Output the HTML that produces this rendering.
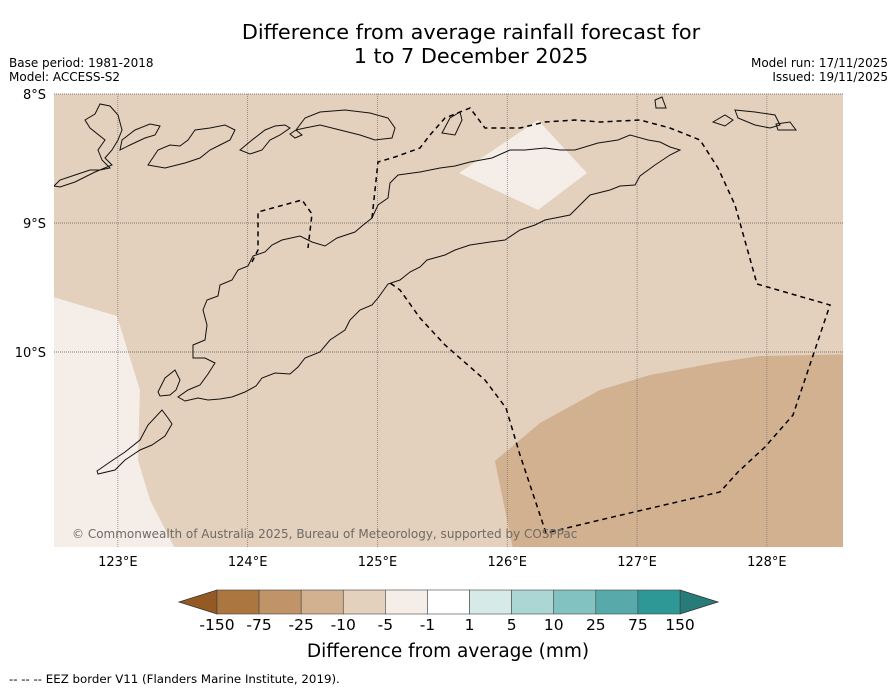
<!DOCTYPE html>
<html><head><meta charset="utf-8"><style>
body{margin:0;background:#fff;font-family:"DejaVu Sans","Liberation Sans",sans-serif;}
svg text{font-family:"DejaVu Sans","Liberation Sans",sans-serif;}
</style></head><body>
<svg id="chart" width="896" height="690" viewBox="0 0 896 690" xmlns="http://www.w3.org/2000/svg">
<text x="471" y="39" font-size="20.8" text-anchor="middle">Difference from average rainfall forecast for</text>
<text x="471" y="63" font-size="20.8" text-anchor="middle">1 to 7 December 2025</text>
<text x="9" y="67" font-size="12">Base period: 1981-2018</text>
<text x="9" y="81" font-size="12">Model: ACCESS-S2</text>
<text x="888" y="67" font-size="12" text-anchor="end">Model run: 17/11/2025</text>
<text x="888" y="81" font-size="12" text-anchor="end">Issued: 19/11/2025</text>
<defs><clipPath id="mapclip"><rect x="54" y="94" width="789" height="453"/></clipPath></defs>
<rect x="54" y="94" width="789" height="453" fill="#e3d0bd"/>
<g id="regions" clip-path="url(#mapclip)"></g>
<g id="grid"></g>
<g id="coast" clip-path="url(#mapclip)" fill="none" stroke="#111" stroke-width="1"></g>
<g id="eez" clip-path="url(#mapclip)" fill="none" stroke="#000" stroke-width="1.5" stroke-dasharray="5,4"></g>
<text x="72" y="538" font-size="12" fill="#6f6a66">© Commonwealth of Australia 2025, Bureau of Meteorology, supported by COSPPac</text>
<g id="axes"></g>
<g id="colorbar"></g>
<text x="448" y="657" font-size="18.5" text-anchor="middle">Difference from average (mm)</text>
<text x="9" y="683" font-size="11.8">--  --  -- EEZ border V11 (Flanders Marine Institute, 2019).</text>
</svg>
<script>
const lonTicks=[123,124,125,126,127,128];
const latTicks=[8,9,10];
const cbLabels=["-150","-75","-25","-10","-5","-1","1","5","10","25","75","150"];
const cbColors=["#ab7640","#c09468","#d2b190","#e3d0bd","#f5ede7","#ffffff","#d6eae8","#acd6d4","#82c2c0","#58aaaa","#2e9896"];
const cbLow="#955a23", cbHigh="#277b78";
const regionLowerRight=[[125.905,10.845],[126.252,10.55],[126.714,10.295],[127.10,10.178],[127.639,10.078],[127.947,10.031],[128.7,10.016],[128.7,11.6],[126.06,11.6]];
const regionLeft=[[122.4,9.543],[122.993,9.721],[123.17,10.295],[123.155,10.837],[123.248,11.147],[123.479,11.6],[122.4,11.6]];
const regionPatch=[[126.237,8.202],[126.614,8.612],[126.237,8.899],[125.628,8.612]];
const regionValues=["#d2b190","#f5ede7","#f5ede7"];
const ns="http://www.w3.org/2000/svg";
const X=lon=>54+(lon-122.508)*129.8;
const Y=lat=>94+(lat-8)*129;
function mk(t,a,p){const e=document.createElementNS(ns,t);for(const k in a)e.setAttribute(k,a[k]);p.appendChild(e);return e;}
const reg=document.getElementById('regions');
[regionLowerRight,regionLeft,regionPatch].forEach((poly,i)=>{
 const e=mk('polygon',{points:poly.map(p=>X(p[0])+','+Y(p[1])).join(' '),fill:regionValues[i]},reg);
 
 
});
const grid=document.getElementById('grid'),axes=document.getElementById('axes');
lonTicks.forEach(l=>{
 const g=mk('line',{x1:X(l),x2:X(l),y1:94,y2:547,stroke:'#777','stroke-width':0.7,'stroke-dasharray':'1,1'},grid);
 
 
 const t=mk('text',{x:X(l),y:566,'font-size':13,'text-anchor':'middle'},axes);t.textContent=l+'°E';
 
 
});
latTicks.forEach(l=>{
 const g=mk('line',{x1:54,x2:843,y1:Y(l),y2:Y(l),stroke:'#555','stroke-width':0.7,'stroke-dasharray':'1,1'},grid);
 
 
 const t=mk('text',{x:46,y:Y(l)+5,'font-size':13,'text-anchor':'end'},axes);t.textContent=l+'°S';
 
 
});
const coast=document.getElementById('coast');
const coastPaths=[
"M193,358 L193,345 L205,340 L207,325 L203,310 L207,300 L218,296 L220,285 L232,280 L238,270 L248,266 L253,256 L265,252 L272,245 L282,240 L300,236 L312,242 L325,246 L337,238 L355,232 L362,226 L372,218 L378,205 L388,198 L390,183 L398,175 L420,172 L440,168 L455,166 L470,162 L492,158 L510,150 L525,150 L545,148 L560,150 L575,150 L598,143 L618,140 L630,135 L648,140 L660,142 L670,147 L680,150 L670,155 L655,165 L640,176 L635,185 L620,186 L610,190 L590,195 L580,205 L570,215 L545,220 L535,225 L520,230 L505,240 L490,242 L470,245 L455,250 L445,255 L427,260 L420,267 L410,272 L400,280 L388,284 L378,298 L372,305 L360,310 L350,320 L345,330 L330,340 L320,352 L305,358 L298,367 L290,374 L275,373 L262,378 L256,386 L245,392 L232,397 L220,399 L208,400 L198,398 L185,401 L178,397 L188,390 L200,385 L208,374 L215,363 L205,358 L193,358 Z",
"M158,392 L165,378 L175,370 L180,380 L176,390 L170,395 L160,396 Z",
"M97,471 L110,462 L125,452 L140,440 L148,425 L162,410 L168,418 L172,424 L165,436 L152,445 L140,450 L125,460 L115,470 L98,474 Z",
"M54,186 L60,180 L75,175 L90,170 L100,170 L110,168 L102,160 L98,150 L105,140 L90,128 L85,120 L95,114 L100,104 L110,106 L118,115 L122,130 L118,140 L112,150 L105,158 L112,165 L95,172 L75,182 L60,187 Z",
"M120,150 L122,140 L135,130 L150,124 L160,126 L155,135 L145,138 L130,145 Z",
"M148,165 L158,150 L170,145 L180,146 L188,140 L195,130 L210,128 L225,125 L235,130 L230,140 L220,145 L210,150 L200,158 L185,163 L165,168 Z",
"M240,150 L252,140 L265,130 L275,126 L285,125 L290,128 L280,135 L270,140 L262,150 L250,154 Z",
"M296,130 L305,118 L320,112 L345,110 L370,113 L388,118 L395,128 L392,138 L375,140 L360,135 L340,130 L320,125 L305,128 Z",
"M290,134 L296,130 L302,135 L295,138 Z",
"M442,133 L450,118 L460,112 L462,120 L455,135 Z",
"M655,100 L662,97 L666,108 L656,108 Z",
"M713,122 L725,115 L733,120 L725,126 Z",
"M735,110 L755,112 L775,115 L780,125 L770,128 L755,125 L738,118 Z",
"M776,124 L790,122 L796,130 L778,130 Z"];
coastPaths.forEach(d=>{const e=mk('path',{d:d},coast);
 
 });
const eez=document.getElementById('eez');
const eezPaths=[
"M372,218 L378,162 L395,157 L420,148 L430,135 L445,118 L470,108 L485,128 L520,128 L545,122 L575,120 L600,122 L640,120 L670,128 L700,140 L718,168 L735,205 L757,284 L830,305 L793,415 L765,447 L738,472 L720,492 L600,520 L546,533 L520,455 L506,408 L485,380 L445,345 L420,318 L400,290 L390,283",
"M252,262 L258,250 L258,212 L302,200 L312,214 L308,248"];
eezPaths.forEach(d=>{const e=mk('path',{d:d},eez);
 
 });
const cb=document.getElementById('colorbar');
const cbX0=217,cbX1=680,cbY=590,cbH=24,bw=(cbX1-cbX0)/cbColors.length;
let e=mk('polygon',{points:`179,602 ${cbX0},${cbY} ${cbX0},${cbY+cbH}`,fill:cbLow,stroke:'#333','stroke-width':0.8},cb);


e=mk('polygon',{points:`718,602 ${cbX1},${cbY} ${cbX1},${cbY+cbH}`,fill:cbHigh,stroke:'#333','stroke-width':0.8},cb);


cbColors.forEach((c,i)=>{const r=mk('rect',{x:cbX0+i*bw,y:cbY,width:bw,height:cbH,fill:c,stroke:'#444','stroke-width':0.6},cb);
 
 });
cbLabels.forEach((l,i)=>{const t=mk('text',{x:cbX0+i*bw,y:630,'font-size':15.5,'text-anchor':'middle'},cb);t.textContent=l;
 
 });
</script>
</body></html>
